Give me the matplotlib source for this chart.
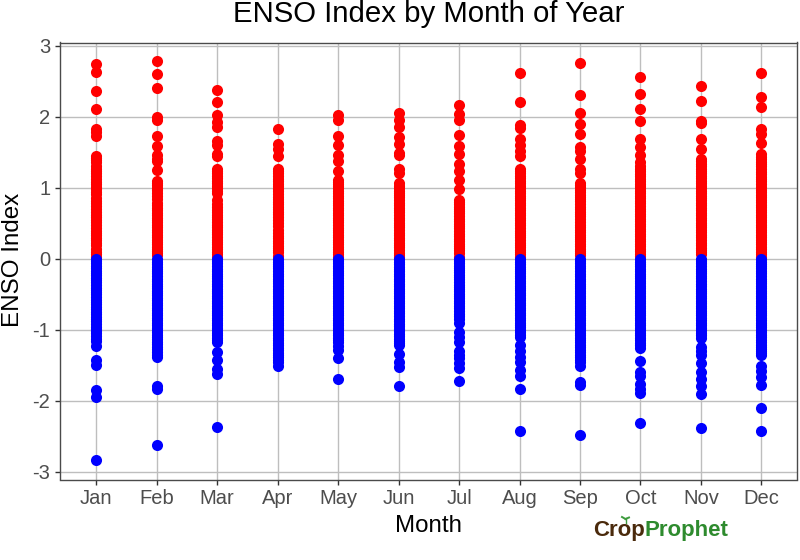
import matplotlib
matplotlib.use("Agg")
import matplotlib.pyplot as plt
from matplotlib.lines import Line2D

plt.rcParams['font.family'] = ['Liberation Sans', 'DejaVu Sans']

months = ['Jan', 'Feb', 'Mar', 'Apr', 'May', 'Jun', 'Jul', 'Aug', 'Sep', 'Oct', 'Nov', 'Dec']

jan_pos = [2.74, 2.63, 2.36, 2.11, 1.83, 1.79, 1.73, 1.45, 1.42, 1.39, 1.36, 1.31, 1.27, 1.24, 1.2, 1.17, 1.12, 1.08, 1.05, 1.01, 0.98, 0.94, 0.91, 0.85, 0.81, 0.78, 0.74, 0.7, 0.66, 0.62, 0.59, 0.55, 0.52, 0.47, 0.43, 0.39, 0.36, 0.33, 0.29, 0.26, 0.22, 0.19, 0.13, 0.1, 0.06, 0.02]
feb_pos = [2.78, 2.6, 2.41, 1.99, 1.95, 1.73, 1.59, 1.46, 1.41, 1.37, 1.25, 1.1, 1.07, 1.04, 1.0, 0.97, 0.92, 0.88, 0.84, 0.79, 0.75, 0.71, 0.68, 0.65, 0.61, 0.57, 0.54, 0.51, 0.47, 0.44, 0.41, 0.38, 0.34, 0.3, 0.27, 0.24, 0.2, 0.17, 0.14, 0.11, 0.08, 0.05]
mar_pos = [2.38, 2.21, 2.02, 1.93, 1.85, 1.66, 1.6, 1.48, 1.44, 1.26, 1.23, 1.2, 1.16, 1.13, 1.1, 1.07, 1.03, 1.0, 0.96, 0.93, 0.82, 0.77, 0.73, 0.69, 0.66, 0.62, 0.59, 0.56, 0.52, 0.48, 0.44, 0.41, 0.38, 0.35, 0.31, 0.27, 0.23, 0.2, 0.17, 0.14, 0.1, 0.07, 0.03]
apr_pos = [1.83, 1.62, 1.55, 1.45, 1.26, 1.23, 1.2, 1.16, 1.12, 1.09, 1.05, 1.02, 0.98, 0.95, 0.91, 0.87, 0.84, 0.8, 0.77, 0.73, 0.7, 0.66, 0.63, 0.59, 0.55, 0.5, 0.46, 0.41, 0.36, 0.32, 0.29, 0.25, 0.22, 0.18, 0.15, 0.12, 0.09, 0.04]
may_pos = [2.02, 1.96, 1.73, 1.6, 1.46, 1.37, 1.23, 1.11, 1.08, 1.05, 1.02, 0.99, 0.96, 0.92, 0.89, 0.85, 0.81, 0.78, 0.75, 0.72, 0.68, 0.64, 0.61, 0.58, 0.54, 0.51, 0.47, 0.43, 0.4, 0.37, 0.33, 0.3, 0.26, 0.23, 0.2, 0.16, 0.13, 0.1, 0.06, 0.03]
jun_pos = [2.05, 1.95, 1.85, 1.71, 1.62, 1.49, 1.46, 1.27, 1.2, 1.06, 1.03, 1.0, 0.96, 0.93, 0.9, 0.87, 0.83, 0.79, 0.75, 0.72, 0.69, 0.66, 0.62, 0.57, 0.54, 0.5, 0.47, 0.44, 0.4, 0.36, 0.33, 0.29, 0.26, 0.22, 0.19, 0.16, 0.12, 0.08, 0.05, 0.02]
jul_pos = [2.16, 2.04, 1.95, 1.74, 1.59, 1.47, 1.33, 1.23, 1.11, 0.98, 0.83, 0.8, 0.77, 0.73, 0.7, 0.67, 0.64, 0.6, 0.56, 0.53, 0.49, 0.46, 0.43, 0.39, 0.35, 0.32, 0.28, 0.25, 0.21, 0.18, 0.15, 0.12, 0.08, 0.03]
aug_pos = [2.62, 2.21, 1.88, 1.84, 1.68, 1.6, 1.51, 1.44, 1.27, 1.23, 1.2, 1.16, 1.13, 1.09, 1.06, 1.03, 0.99, 0.95, 0.92, 0.88, 0.85, 0.82, 0.78, 0.75, 0.72, 0.68, 0.64, 0.61, 0.58, 0.54, 0.5, 0.47, 0.43, 0.39, 0.36, 0.33, 0.3, 0.26, 0.22, 0.19, 0.16, 0.12, 0.09, 0.06, 0.03]
sep_pos = [2.76, 2.3, 2.05, 1.9, 1.75, 1.57, 1.52, 1.41, 1.26, 1.21, 1.07, 1.04, 1.01, 0.97, 0.94, 0.9, 0.87, 0.84, 0.81, 0.77, 0.73, 0.7, 0.66, 0.63, 0.6, 0.56, 0.52, 0.48, 0.45, 0.41, 0.38, 0.34, 0.31, 0.28, 0.25, 0.21, 0.18, 0.14, 0.11, 0.08, 0.05]
oct_pos = [2.56, 2.32, 2.11, 1.94, 1.69, 1.58, 1.46, 1.36, 1.3, 1.27, 1.23, 1.19, 1.16, 1.12, 1.09, 1.05, 1.02, 0.99, 0.95, 0.92, 0.88, 0.85, 0.81, 0.78, 0.74, 0.7, 0.67, 0.63, 0.6, 0.56, 0.53, 0.49, 0.46, 0.42, 0.39, 0.35, 0.32, 0.28, 0.25, 0.21, 0.18, 0.14, 0.11, 0.07, 0.04]
nov_pos = [2.43, 2.22, 1.94, 1.91, 1.69, 1.55, 1.41, 1.37, 1.33, 1.3, 1.27, 1.23, 1.2, 1.17, 1.13, 1.1, 1.06, 1.03, 0.99, 0.96, 0.92, 0.89, 0.85, 0.82, 0.79, 0.76, 0.72, 0.68, 0.65, 0.62, 0.58, 0.54, 0.5, 0.47, 0.44, 0.4, 0.37, 0.34, 0.3, 0.26, 0.22, 0.19, 0.15, 0.12, 0.09, 0.06]
dec_pos = [2.61, 2.28, 2.13, 1.83, 1.76, 1.63, 1.48, 1.43, 1.4, 1.36, 1.33, 1.3, 1.26, 1.22, 1.19, 1.15, 1.12, 1.09, 1.05, 1.01, 0.97, 0.94, 0.9, 0.87, 0.83, 0.8, 0.76, 0.73, 0.69, 0.66, 0.62, 0.59, 0.55, 0.52, 0.48, 0.45, 0.41, 0.38, 0.34, 0.31, 0.27, 0.24, 0.2, 0.17, 0.13, 0.1, 0.06, 0.03]

jan_neg = [0.0, -0.03, -0.06, -0.1, -0.13, -0.17, -0.2, -0.23, -0.27, -0.3, -0.33, -0.37, -0.41, -0.44, -0.47, -0.5, -0.54, -0.58, -0.61, -0.64, -0.68, -0.71, -0.75, -0.78, -0.82, -0.85, -0.88, -0.92, -0.96, -0.99, -1.02, -1.05, -1.09, -1.13, -1.16, -1.23, -1.43, -1.5, -1.85, -1.95, -2.84]
feb_neg = [0.0, -0.04, -0.07, -0.11, -0.14, -0.17, -0.2, -0.24, -0.28, -0.31, -0.35, -0.38, -0.41, -0.45, -0.48, -0.51, -0.55, -0.58, -0.62, -0.65, -0.69, -0.72, -0.76, -0.79, -0.83, -0.86, -0.9, -0.93, -0.97, -1.0, -1.03, -1.07, -1.1, -1.13, -1.17, -1.2, -1.24, -1.27, -1.31, -1.35, -1.39, -1.79, -1.84, -2.62]
mar_neg = [0.0, -0.03, -0.06, -0.1, -0.14, -0.17, -0.21, -0.24, -0.27, -0.31, -0.35, -0.38, -0.42, -0.45, -0.48, -0.52, -0.56, -0.59, -0.63, -0.66, -0.7, -0.73, -0.76, -0.8, -0.84, -0.87, -0.91, -0.94, -0.98, -1.01, -1.04, -1.08, -1.11, -1.15, -1.18, -1.32, -1.43, -1.56, -1.62, -2.37]
apr_neg = [0.0, -0.04, -0.07, -0.1, -0.13, -0.17, -0.21, -0.24, -0.28, -0.31, -0.34, -0.38, -0.42, -0.45, -0.49, -0.52, -0.55, -0.59, -0.63, -0.66, -0.7, -0.73, -0.76, -0.8, -0.84, -0.87, -0.9, -0.94, -0.98, -1.01, -1.05, -1.08, -1.11, -1.15, -1.19, -1.22, -1.26, -1.29, -1.33, -1.36, -1.39, -1.43, -1.46, -1.51]
may_neg = [0.0, -0.03, -0.06, -0.1, -0.13, -0.17, -0.2, -0.23, -0.27, -0.31, -0.34, -0.38, -0.41, -0.45, -0.48, -0.52, -0.55, -0.59, -0.62, -0.66, -0.69, -0.73, -0.76, -0.8, -0.83, -0.87, -0.9, -0.94, -0.97, -1.01, -1.04, -1.08, -1.11, -1.15, -1.18, -1.23, -1.28, -1.4, -1.7]
jun_neg = [0.0, -0.04, -0.07, -0.11, -0.14, -0.18, -0.21, -0.24, -0.28, -0.31, -0.35, -0.39, -0.42, -0.46, -0.49, -0.53, -0.56, -0.6, -0.63, -0.67, -0.7, -0.73, -0.77, -0.81, -0.85, -0.88, -0.92, -0.95, -0.99, -1.02, -1.06, -1.09, -1.13, -1.16, -1.19, -1.22, -1.34, -1.45, -1.53, -1.79]
jul_neg = [0.0, -0.03, -0.06, -0.1, -0.13, -0.16, -0.19, -0.23, -0.26, -0.29, -0.33, -0.37, -0.4, -0.43, -0.46, -0.5, -0.53, -0.56, -0.6, -0.63, -0.67, -0.7, -0.74, -0.78, -0.81, -0.85, -0.9, -1.03, -1.1, -1.17, -1.3, -1.36, -1.4, -1.47, -1.54, -1.72]
aug_neg = [0.0, -0.04, -0.07, -0.11, -0.14, -0.17, -0.2, -0.24, -0.27, -0.31, -0.34, -0.38, -0.41, -0.44, -0.48, -0.51, -0.55, -0.58, -0.62, -0.65, -0.69, -0.72, -0.76, -0.79, -0.83, -0.86, -0.9, -0.93, -0.96, -1.0, -1.03, -1.07, -1.1, -1.22, -1.3, -1.38, -1.45, -1.57, -1.65, -1.83, -2.42]
sep_neg = [0.0, -0.03, -0.06, -0.1, -0.13, -0.17, -0.21, -0.24, -0.28, -0.31, -0.35, -0.38, -0.41, -0.45, -0.48, -0.52, -0.55, -0.59, -0.63, -0.66, -0.7, -0.73, -0.76, -0.8, -0.84, -0.87, -0.91, -0.94, -0.97, -1.01, -1.04, -1.08, -1.11, -1.15, -1.18, -1.21, -1.25, -1.28, -1.32, -1.35, -1.39, -1.42, -1.45, -1.51, -1.73, -1.78, -2.48]
oct_neg = [0.0, -0.04, -0.07, -0.1, -0.14, -0.17, -0.21, -0.24, -0.27, -0.31, -0.34, -0.38, -0.41, -0.45, -0.49, -0.52, -0.55, -0.59, -0.62, -0.66, -0.7, -0.73, -0.77, -0.8, -0.83, -0.87, -0.9, -0.94, -0.98, -1.01, -1.05, -1.08, -1.12, -1.15, -1.19, -1.22, -1.26, -1.44, -1.59, -1.65, -1.76, -1.83, -1.89, -2.31]
nov_neg = [0.0, -0.03, -0.06, -0.1, -0.14, -0.17, -0.2, -0.24, -0.27, -0.31, -0.35, -0.38, -0.42, -0.45, -0.48, -0.52, -0.55, -0.59, -0.62, -0.66, -0.69, -0.73, -0.77, -0.8, -0.84, -0.87, -0.91, -0.94, -0.98, -1.01, -1.05, -1.08, -1.12, -1.25, -1.3, -1.36, -1.47, -1.59, -1.69, -1.8, -1.9, -2.39]
dec_neg = [0.0, -0.04, -0.07, -0.1, -0.13, -0.17, -0.2, -0.24, -0.28, -0.31, -0.34, -0.38, -0.41, -0.45, -0.48, -0.52, -0.56, -0.59, -0.62, -0.66, -0.69, -0.73, -0.76, -0.8, -0.83, -0.87, -0.9, -0.93, -0.96, -1.0, -1.03, -1.07, -1.1, -1.14, -1.17, -1.21, -1.24, -1.27, -1.3, -1.33, -1.36, -1.51, -1.58, -1.67, -1.78, -2.1, -2.43]

pos_series = [jan_pos, feb_pos, mar_pos, apr_pos, may_pos, jun_pos, jul_pos, aug_pos, sep_pos, oct_pos, nov_pos, dec_pos]
neg_series = [jan_neg, feb_neg, mar_neg, apr_neg, may_neg, jun_neg, jul_neg, aug_neg, sep_neg, oct_neg, nov_neg, dec_neg]

W, H = 800, 560
fig = plt.figure(figsize=(8, 5.6), dpi=100, facecolor='white')
ax = fig.add_axes([59.5 / W, 1 - 479.5 / H, (797 - 59.5) / W, (479.5 - 42.5) / H])

for i, p in enumerate(pos_series, start=1):
    ax.scatter([i] * len(p), p, s=64, color='#FF0000', linewidths=0, zorder=3)
for i, n in enumerate(neg_series, start=1):
    ax.scatter([i] * len(n), n, s=64, color='#0000FF', linewidths=0, zorder=4)

ax.set_xlim(0.391, 12.59)
ax.set_ylim(-3.11, 3.045)
ax.set_xticks(range(1, 13))
ax.set_xticklabels(months)
ax.set_yticks([-3, -2, -1, 0, 1, 2, 3])
ax.set_yticklabels(['-3', '-2', '-1', '0', '1', '2', '3'])
ax.grid(True, color='#BEBEBE', linewidth=1.0, zorder=0)
ax.set_axisbelow(True)
ax.tick_params(axis='both', length=3.6, width=1.0, color='#333333', labelcolor='#4D4D4D', labelsize=14.5, pad=3)
for s in ax.spines.values():
    s.set_color('#4A4A4A')
    s.set_linewidth(1.0)

fig.text(429 / W, 1 - 14.5 / H, 'ENSO Index by Month of Year', ha='center', va='center', fontsize=21.2, color='black')
fig.text(428.5 / W, 1 - 526 / H, 'Month', ha='center', va='center', fontsize=17.4, color='black')
fig.text(13 / W, 1 - 260 / H, 'ENSO Index', rotation=90, ha='center', va='center', fontsize=17.4, color='black')

# CropProphet logo, as text
fig.text(593 / W, 1 - 530.5 / H, 'Crop', ha='left', va='center', fontsize=16, fontweight='bold', color='#4A2A0C')
fig.text(645 / W, 1 - 530.5 / H, 'Prophet', ha='left', va='center', fontsize=16, fontweight='bold', color='#2E8B2E')
fig.add_artist(Line2D([625.5 / W, 625.5 / W], [1 - 523 / H, 1 - 518 / H], color='#3E9B3E', lw=1))
fig.add_artist(Line2D([625.5 / W, 622 / W], [1 - 519 / H, 1 - 517 / H], color='#3E9B3E', lw=1.4))
fig.add_artist(Line2D([625.5 / W, 629 / W], [1 - 519 / H, 1 - 517.5 / H], color='#3E9B3E', lw=1.4))

fig.savefig('out.png', dpi=100)
